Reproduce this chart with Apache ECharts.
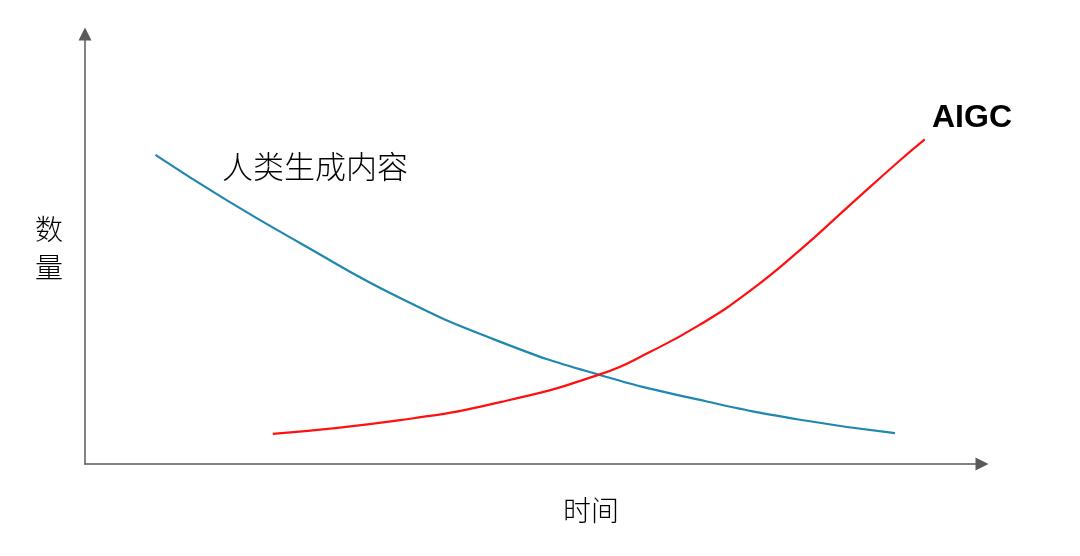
<!DOCTYPE html>
<html>
<head>
<meta charset="utf-8">
<script src="https://cdn.jsdelivr.net/npm/echarts@6/dist/echarts.min.js"></script>
<style>html,body{margin:0;padding:0;background:#fff;}#c{width:1080px;height:556px;}</style>
</head>
<body>
<div id="c"></div>
<script>
// Data (axis space 0..100, no ticks shown)
var humanX = [7.85, 15.6, 23.96, 35.13, 46.31, 57.38, 68.56, 79.73, 90.30];
var humanY = [71.9, 61.6, 51.4, 38.6, 28.4, 20.7, 14.9, 10.3, 7.2];
var aigcX = [20.94, 35.13, 46.31, 57.48, 63.02, 68.56, 74.09, 79.73, 85.27, 90.90, 93.62];
var aigcY = [7.0, 10.2, 14.4, 20.9, 26.1, 32.4, 40.2, 49.8, 60.2, 70.7, 75.5];
var humanName = '人类生成内容';
var aigcName = 'AIGC';
var xName = '时间';
var yName = '数量';

function pairs(xs, ys) { return xs.map(function (x, i) { return [x, ys[i]]; }); }

var chart = echarts.init(document.getElementById('c'));
var axisColor = '#5a5a5a';
chart.setOption({
  animation: false,
  backgroundColor: '#ffffff',
  grid: { left: 85, right: 98, top: 34, bottom: 92 },
  xAxis: {
    type: 'value', min: 0, max: 100,
    axisLine: { show: true, onZero: false, symbol: ['none', 'triangle'], symbolSize: [13, 13], lineStyle: { color: axisColor, width: 1.5 } },
    axisTick: { show: false }, axisLabel: { show: false }, splitLine: { show: false }
  },
  yAxis: {
    type: 'value', min: 0, max: 100,
    axisLine: { show: true, onZero: false, symbol: ['none', 'triangle'], symbolSize: [13, 13], lineStyle: { color: axisColor, width: 1.5 } },
    axisTick: { show: false }, axisLabel: { show: false }, splitLine: { show: false }
  },
  series: [
    { name: humanName, type: 'line', smooth: true, showSymbol: false, data: pairs(humanX, humanY),
      lineStyle: { color: '#1f87b0', width: 2.2 } },
    { name: aigcName, type: 'line', smooth: true, showSymbol: false, data: pairs(aigcX, aigcY),
      lineStyle: { color: '#ff1010', width: 2.2 } }
  ],
  graphic: [
    { type: 'text', left: 222, top: 151, style: { text: humanName, fontSize: 31, fontFamily: 'Noto Sans CJK SC', fontWeight: 300, fill: '#000' } },
    { type: 'text', left: 932, top: 102, style: { text: aigcName, fontSize: 32, fontFamily: 'Liberation Sans, Arial', fontWeight: 'bold', fill: '#000' } },
    { type: 'text', left: 563, top: 496, style: { text: xName, fontSize: 28, fontFamily: 'Noto Sans CJK SC', fontWeight: 300, fill: '#000' } },
    { type: 'text', left: 35, top: 210, style: { text: yName.split('').join('\n'), fontSize: 28, lineHeight: 38, fontFamily: 'Noto Sans CJK SC', fontWeight: 300, fill: '#000' } }
  ]
});
</script>
</body>
</html>
